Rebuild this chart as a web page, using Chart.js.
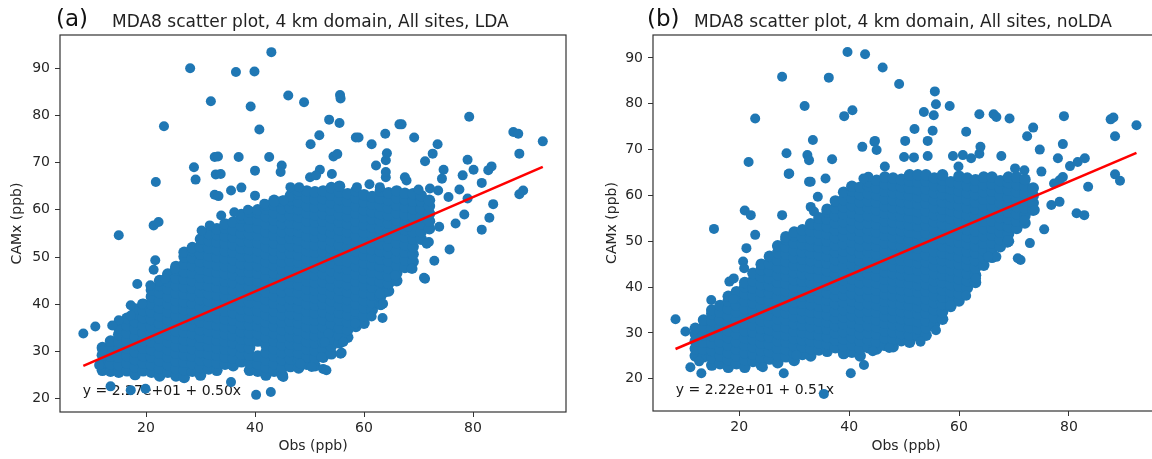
<!DOCTYPE html>
<html>
<head>
<meta charset="utf-8">
<script src="https://cdn.jsdelivr.net/npm/chart.js@4.4.0/dist/chart.umd.min.js"></script>
<style>
  html, body { margin: 0; padding: 0; background: #fff; }
  body { width: 1152px; height: 459px; overflow: hidden; position: relative; }
  .panel { position: absolute; top: 0; height: 459px; }
  .tag { position: absolute; font-family: 'DejaVu Sans'; font-size: 23px; line-height: 23px; color: #111; white-space: nowrap; }
  .ttl { position: absolute; font-family: 'DejaVu Sans'; font-size: 17px; line-height: 17px; color: #222; white-space: nowrap; }
</style>
</head>
<body>
<div class="panel" style="left:0;width:580px"><canvas id="chartA"></canvas></div>
<div class="panel" style="left:580px;width:600px"><canvas id="chartB"></canvas></div>
<div class="tag" style="left:56px;top:7px">(a)</div>
<div class="ttl" style="left:112px;top:13px">MDA8 scatter plot, 4 km domain, All sites, LDA</div>
<div class="tag" style="left:647px;top:7px">(b)</div>
<div class="ttl" style="left:694px;top:13px">MDA8 scatter plot, 4 km domain, All sites, noLDA</div>
<script>
// tick labels
const xTicks = [20, 40, 60, 80];
const yTicks = [20, 30, 40, 50, 60, 70, 80, 90];

// regression fits [intercept, slope]
const fitLda = [22.7, 0.50];
const fitNoLda = [22.2, 0.51];
const eqLda = 'y = 2.27e+01 + 0.50x';
const eqNoLda = 'y = 2.22e+01 + 0.51x';

// dense core of the LDA cloud, read column by column: [obs, camx, camx, ...]
const ldaCore = [
  [12, 26, 27.6, 29.2, 30.8],
  [13.5, 25.8, 27.4, 29, 30.6, 32.2],
  [15, 25.6, 27.2, 28.8, 30.4, 32, 33.6, 35],
  [16.5, 25.9, 27.5, 29.1, 30.7, 32.3, 33.9, 35.5, 37],
  [18, 25.1, 26.7, 28.3, 29.9, 31.5, 33.1, 34.7, 36.3, 37.9, 39],
  [19.5, 25.9, 27.5, 29.1, 30.7, 32.3, 33.9, 35.5, 37.1, 38.7, 40],
  [21, 25.6, 27.2, 28.8, 30.4, 32, 33.6, 35.2, 36.8, 38.4, 40, 41.6, 43],
  [22.5, 24.8, 26.4, 28, 29.6, 31.2, 32.8, 34.4, 36, 37.6, 39.2, 40.8, 42.4, 44, 45],
  [24, 25.6, 27.2, 28.8, 30.4, 32, 33.6, 35.2, 36.8, 38.4, 40, 41.6, 43.2, 44.8, 46.4],
  [25.5, 24.8, 26.4, 28, 29.6, 31.2, 32.8, 34.4, 36, 37.6, 39.2, 40.8, 42.4, 44, 45.6, 47.2, 48],
  [27, 24.5, 26.1, 27.7, 29.3, 30.9, 32.5, 34.1, 35.7, 37.3, 38.9, 40.5, 42.1, 43.7, 45.3, 46.9, 48.5, 50.1, 51],
  [28.5, 25.8, 27.4, 29, 30.6, 32.2, 33.8, 35.4, 37, 38.6, 40.2, 41.8, 43.4, 45, 46.6, 48.2, 49.8, 51.4, 52],
  [30, 25, 26.6, 28.2, 29.8, 31.4, 33, 34.6, 36.2, 37.8, 39.4, 41, 42.6, 44.2, 45.8, 47.4, 49, 50.6, 52.2, 53.8],
  [31.5, 26.3, 27.9, 29.5, 31.1, 32.7, 34.3, 35.9, 37.5, 39.1, 40.7, 42.3, 43.9, 45.5, 47.1, 48.7, 50.3, 51.9, 53.5, 55],
  [33, 26, 27.6, 29.2, 30.8, 32.4, 34, 35.6, 37.2, 38.8, 40.4, 42, 43.6, 45.2, 46.8, 48.4, 50, 51.6, 53.2, 54.8, 56],
  [34.5, 27.3, 28.9, 30.5, 32.1, 33.7, 35.3, 36.9, 38.5, 40.1, 41.7, 43.3, 44.9, 46.5, 48.1, 49.7, 51.3, 52.9, 54.5, 56.1, 57],
  [36, 27, 28.6, 30.2, 31.8, 33.4, 35, 36.6, 38.2, 39.8, 41.4, 43, 44.6, 46.2, 47.8, 49.4, 51, 52.6, 54.2, 55.8, 57.4],
  [37.5, 27.8, 29.4, 31, 32.6, 34.2, 35.8, 37.4, 39, 40.6, 42.2, 43.8, 45.4, 47, 48.6, 50.2, 51.8, 53.4, 55, 56.6, 58.2, 59],
  [39, 26, 27.6, 29.2, 30.8, 32.4, 34, 35.6, 37.2, 38.8, 40.4, 42, 43.6, 45.2, 46.8, 48.4, 50, 51.6, 53.2, 54.8, 56.4, 58, 59.6],
  [40.5, 25.8, 27.4, 29, 32.2, 33.8, 35.4, 37, 38.6, 40.2, 41.8, 43.4, 45, 46.6, 48.2, 49.8, 51.4, 53, 54.6, 56.2, 57.8, 59.4, 60],
  [42, 25, 26.6, 28.2, 29.8, 31.4, 33, 34.6, 36.2, 37.8, 39.4, 41, 42.6, 44.2, 45.8, 47.4, 49, 50.6, 52.2, 53.8, 55.4, 57, 58.6, 60.2, 61],
  [43.5, 25.8, 27.4, 29, 30.6, 32.2, 33.8, 35.4, 37, 38.6, 40.2, 41.8, 43.4, 45, 46.6, 48.2, 49.8, 51.4, 53, 54.6, 56.2, 57.8, 59.4, 61, 62],
  [45, 25, 26.6, 28.2, 29.8, 31.4, 33, 34.6, 36.2, 37.8, 39.4, 41, 42.6, 44.2, 45.8, 47.4, 49, 50.6, 52.2, 53.8, 55.4, 57, 58.6, 60.2, 61.8],
  [46.5, 26.8, 28.4, 30, 31.6, 33.2, 34.8, 36.4, 38, 39.6, 41.2, 42.8, 44.4, 46, 47.6, 49.2, 50.8, 52.4, 54, 55.6, 57.2, 58.8, 60.4, 62, 63],
  [48, 26.5, 28.1, 29.7, 31.3, 32.9, 34.5, 36.1, 37.7, 39.3, 40.9, 42.5, 44.1, 45.7, 47.3, 48.9, 50.5, 52.1, 53.7, 55.3, 56.9, 58.5, 60.1, 61.7, 63.3, 64],
  [49.5, 27.3, 28.9, 30.5, 32.1, 33.7, 35.3, 36.9, 38.5, 40.1, 41.7, 43.3, 44.9, 46.5, 48.1, 49.7, 51.3, 52.9, 54.5, 56.1, 57.7, 59.3, 60.9, 62.5, 64],
  [51, 27, 28.6, 30.2, 31.8, 33.4, 35, 36.6, 38.2, 39.8, 41.4, 43, 44.6, 46.2, 47.8, 49.4, 51, 52.6, 54.2, 55.8, 57.4, 59, 60.6, 62.2, 63.8],
  [52.5, 28.8, 30.4, 32, 33.6, 35.2, 36.8, 38.4, 40, 41.6, 43.2, 44.8, 46.4, 48, 49.6, 51.2, 52.8, 54.4, 56, 57.6, 59.2, 60.8, 62.4, 64],
  [54, 29.5, 31.1, 32.7, 34.3, 35.9, 37.5, 39.1, 40.7, 42.3, 43.9, 45.5, 47.1, 48.7, 50.3, 51.9, 53.5, 55.1, 56.7, 58.3, 59.9, 61.5, 63.1, 64.7],
  [55.5, 31.8, 33.4, 35, 36.6, 38.2, 39.8, 41.4, 43, 44.6, 46.2, 47.8, 49.4, 51, 52.6, 54.2, 55.8, 57.4, 59, 60.6, 62.2, 63.8, 65],
  [57, 33, 34.6, 36.2, 37.8, 39.4, 41, 42.6, 44.2, 45.8, 47.4, 49, 50.6, 52.2, 53.8, 55.4, 57, 58.6, 60.2, 61.8, 63.4],
  [58.5, 35.3, 36.9, 38.5, 40.1, 41.7, 43.3, 44.9, 46.5, 48.1, 49.7, 51.3, 52.9, 54.5, 56.1, 57.7, 59.3, 60.9, 62.5, 64],
  [60, 36, 37.6, 39.2, 40.8, 42.4, 44, 45.6, 47.2, 48.8, 50.4, 52, 53.6, 55.2, 56.8, 58.4, 60, 61.6, 63.2],
  [61.5, 38.8, 40.4, 42, 43.6, 45.2, 46.8, 48.4, 50, 51.6, 53.2, 54.8, 56.4, 58, 59.6, 61.2, 62.8],
  [63, 40, 41.6, 43.2, 44.8, 46.4, 48, 49.6, 51.2, 52.8, 54.4, 56, 57.6, 59.2, 60.8, 62.4, 64],
  [64.5, 42.8, 44.4, 46, 47.6, 49.2, 50.8, 52.4, 54, 55.6, 57.2, 58.8, 60.4, 62, 63.6],
  [66, 45, 46.6, 48.2, 49.8, 51.4, 53, 54.6, 56.2, 57.8, 59.4, 61, 62.6, 64],
  [67.5, 47.8, 49.4, 51, 52.6, 54.2, 55.8, 57.4, 59, 60.6, 62.2, 63.5],
  [69, 49, 50.6, 52.2, 53.8, 55.4, 57, 58.6, 60.2, 61.8, 63.4],
  [70.5, 53.8, 55.4, 57, 58.6, 60.2, 61.8, 63],
  [72, 56, 57.6, 59.2, 60.8, 62]
];

// scattered LDA points outside the core: [obs, camx]
const ldaOuter = [
  [8.5, 33.8], [10.7, 35.3], [11.4, 27.1], [13.5, 22.6], [15.0, 54.6], [15.0, 36.6], [17.2, 37.6], [17.2, 39.8],
  [19.3, 40.1], [18.4, 44.3], [20.8, 44.0], [21.4, 47.3], [21.7, 49.3], [21.8, 65.9], [21.4, 56.7], [22.3, 57.4],
  [23.3, 77.7], [28.1, 90.0], [28.8, 69.0], [29.1, 66.4], [31.9, 83.0], [32.6, 71.2], [33.2, 71.3], [32.8, 67.5],
  [33.7, 67.6], [32.6, 63.2], [33.3, 62.9], [36.5, 89.2], [37.0, 71.2], [37.5, 64.7], [35.6, 64.1], [39.9, 89.3],
  [39.2, 81.9], [40.8, 77.0], [40.0, 68.3], [40.0, 63.0], [42.6, 71.2], [43.0, 93.4], [44.9, 69.4], [44.7, 68.0],
  [46.1, 84.2], [17.2, 21.8], [19.9, 22.1], [35.6, 23.5], [40.2, 20.8], [42.9, 21.4], [30.2, 55.6], [31.7, 56.7],
  [33.8, 58.8], [36.2, 59.5], [38.7, 60.0], [41.7, 61.3], [43.5, 61.6], [45.3, 62.0], [46.5, 64.8], [48.1, 64.8],
  [49.0, 82.8], [55.6, 84.3], [55.7, 83.6], [53.6, 79.1], [55.5, 78.4], [51.8, 75.8], [50.2, 73.9], [58.5, 75.3],
  [59.0, 75.3], [61.4, 73.9], [63.9, 76.1], [66.5, 78.1], [66.9, 78.1], [69.2, 75.3], [79.3, 79.7], [87.4, 76.5],
  [88.3, 76.1], [92.8, 74.5], [88.5, 71.9], [73.5, 73.9], [72.6, 71.9], [71.2, 70.3], [79.0, 70.6], [78.1, 67.3],
  [80.1, 68.5], [82.8, 68.4], [83.4, 69.2], [81.6, 65.7], [89.2, 64.1], [88.5, 63.3], [83.7, 61.2], [83.0, 58.3],
  [81.6, 55.8], [78.4, 59.0], [76.8, 57.1], [79.0, 62.4], [77.5, 64.3], [74.6, 68.5], [74.3, 66.6], [73.6, 64.1],
  [75.5, 62.7], [73.8, 56.4], [71.9, 53.2], [75.7, 51.6], [72.9, 49.2], [71.2, 45.4], [68.9, 47.5], [65.7, 46.1],
  [63.7, 42.4], [63.1, 39.8], [61.4, 37.4], [63.4, 37.1], [58.4, 35.9], [56.2, 32.0], [55.9, 29.7], [53.5, 33.8],
  [52.8, 32.0], [52.5, 26.3], [50.4, 26.7], [48.3, 27.4], [45.2, 24.6], [54.1, 67.6], [54.4, 71.3], [55.1, 71.8],
  [51.9, 68.5], [50.1, 66.9], [51.2, 67.3], [58.7, 64.8], [61.0, 65.4], [62.2, 69.4], [64.0, 70.5], [64.2, 72.0],
  [64.0, 66.9], [64.0, 68.0], [67.5, 66.9], [67.8, 66.2], [70.0, 64.3], [72.1, 64.5], [53.1, 26.0], [55.7, 29.5],
  [52.2, 28.8], [62.9, 42.2], [63.5, 40.1], [68.7, 47.5], [71.0, 45.6], [71.5, 52.8], [68.1, 56.4], [13.8, 35.5],
  [12.0, 30.2], [62.9, 64.8], [23.5, 45.4], [25.3, 47.5]
];

// dense core of the noLDA cloud: [obs, camx, camx, ...]
const noLdaCore = [
  [12, 25, 26.6, 28.2, 29.8, 31],
  [13.5, 24.8, 26.4, 28, 29.6, 31.2, 32.8],
  [15, 23, 24.6, 26.2, 27.8, 29.4, 31, 32.6, 34.2, 35],
  [16.5, 23.3, 24.9, 26.5, 28.1, 29.7, 31.3, 32.9, 34.5, 36],
  [18, 22.5, 24.1, 25.7, 27.3, 28.9, 30.5, 32.1, 33.7, 35.3, 36.9, 38],
  [19.5, 23.3, 24.9, 26.5, 28.1, 29.7, 31.3, 32.9, 34.5, 36.1, 37.7, 39],
  [21, 22.5, 24.1, 25.7, 27.3, 28.9, 30.5, 32.1, 33.7, 35.3, 36.9, 38.5, 40.1, 41],
  [22.5, 23.8, 25.4, 27, 28.6, 30.2, 31.8, 33.4, 35, 36.6, 38.2, 39.8, 41.4, 43],
  [24, 23, 24.6, 26.2, 27.8, 29.4, 31, 32.6, 34.2, 35.8, 37.4, 39, 40.6, 42.2, 43.8, 45],
  [25.5, 24.3, 25.9, 27.5, 29.1, 30.7, 32.3, 33.9, 35.5, 37.1, 38.7, 40.3, 41.9, 43.5, 45.1, 46.7],
  [27, 23.5, 25.1, 26.7, 28.3, 29.9, 31.5, 33.1, 34.7, 36.3, 37.9, 39.5, 41.1, 42.7, 44.3, 45.9, 47.5, 49],
  [28.5, 24.8, 26.4, 28, 29.6, 31.2, 32.8, 34.4, 36, 37.6, 39.2, 40.8, 42.4, 44, 45.6, 47.2, 48.8, 50.4, 51],
  [30, 24, 25.6, 27.2, 28.8, 30.4, 32, 33.6, 35.2, 36.8, 38.4, 40, 41.6, 43.2, 44.8, 46.4, 48, 49.6, 51.2, 52],
  [31.5, 25.3, 26.9, 28.5, 30.1, 31.7, 33.3, 34.9, 36.5, 38.1, 39.7, 41.3, 42.9, 44.5, 46.1, 47.7, 49.3, 50.9, 52.5],
  [33, 25, 26.6, 28.2, 29.8, 31.4, 33, 34.6, 36.2, 37.8, 39.4, 41, 42.6, 44.2, 45.8, 47.4, 49, 50.6, 52.2, 53.8],
  [34.5, 26.3, 27.9, 29.5, 31.1, 32.7, 34.3, 35.9, 37.5, 39.1, 40.7, 42.3, 43.9, 45.5, 47.1, 48.7, 50.3, 51.9, 53.5, 55.1],
  [36, 26, 27.6, 29.2, 30.8, 32.4, 34, 35.6, 37.2, 38.8, 40.4, 42, 43.6, 45.2, 46.8, 48.4, 50, 51.6, 53.2, 54.8, 56.4, 57],
  [37.5, 26.8, 28.4, 30, 31.6, 33.2, 34.8, 36.4, 38, 39.6, 41.2, 42.8, 44.4, 46, 47.6, 49.2, 50.8, 52.4, 54, 55.6, 57.2, 58.8],
  [39, 25.5, 27.1, 28.7, 30.3, 31.9, 33.5, 35.1, 36.7, 38.3, 39.9, 41.5, 43.1, 44.7, 46.3, 47.9, 49.5, 51.1, 52.7, 54.3, 55.9, 57.5, 59.1, 60.7],
  [40.5, 25.8, 27.4, 29, 30.6, 32.2, 33.8, 35.4, 37, 38.6, 40.2, 41.8, 43.4, 45, 46.6, 48.2, 49.8, 51.4, 53, 54.6, 56.2, 57.8, 59.4, 61, 62],
  [42, 25, 26.6, 28.2, 29.8, 31.4, 33, 34.6, 36.2, 37.8, 39.4, 41, 42.6, 44.2, 45.8, 47.4, 49, 50.6, 52.2, 53.8, 55.4, 57, 58.6, 60.2, 61.8],
  [43.5, 26.8, 28.4, 30, 31.6, 33.2, 34.8, 36.4, 38, 39.6, 41.2, 42.8, 44.4, 46, 47.6, 49.2, 50.8, 52.4, 54, 55.6, 57.2, 58.8, 60.4, 62, 63],
  [45, 26.5, 28.1, 29.7, 31.3, 32.9, 34.5, 36.1, 37.7, 39.3, 40.9, 42.5, 44.1, 45.7, 47.3, 48.9, 50.5, 52.1, 53.7, 55.3, 56.9, 58.5, 60.1, 61.7, 63.3],
  [46.5, 27.3, 28.9, 30.5, 32.1, 33.7, 35.3, 36.9, 38.5, 40.1, 41.7, 43.3, 44.9, 46.5, 48.1, 49.7, 51.3, 52.9, 54.5, 56.1, 57.7, 59.3, 60.9, 62.5, 64],
  [48, 27, 28.6, 30.2, 31.8, 33.4, 35, 36.6, 38.2, 39.8, 41.4, 43, 44.6, 46.2, 47.8, 49.4, 51, 52.6, 54.2, 55.8, 57.4, 59, 60.6, 62.2, 63.8],
  [49.5, 28.3, 29.9, 31.5, 33.1, 34.7, 36.3, 37.9, 39.5, 41.1, 42.7, 44.3, 45.9, 47.5, 49.1, 50.7, 52.3, 53.9, 55.5, 57.1, 58.7, 60.3, 61.9, 63.5],
  [51, 28, 29.6, 31.2, 32.8, 34.4, 36, 37.6, 39.2, 40.8, 42.4, 44, 45.6, 47.2, 48.8, 50.4, 52, 53.6, 55.2, 56.8, 58.4, 60, 61.6, 63.2, 64.5],
  [52.5, 29.3, 30.9, 32.5, 34.1, 35.7, 37.3, 38.9, 40.5, 42.1, 43.7, 45.3, 46.9, 48.5, 50.1, 51.7, 53.3, 54.9, 56.5, 58.1, 59.7, 61.3, 62.9, 64.5],
  [54, 29.5, 31.1, 32.7, 34.3, 35.9, 37.5, 39.1, 40.7, 42.3, 43.9, 45.5, 47.1, 48.7, 50.3, 51.9, 53.5, 55.1, 56.7, 58.3, 59.9, 61.5, 63.1, 64.5],
  [55.5, 31.8, 33.4, 35, 36.6, 38.2, 39.8, 41.4, 43, 44.6, 46.2, 47.8, 49.4, 51, 52.6, 54.2, 55.8, 57.4, 59, 60.6, 62.2, 63.8],
  [57, 33, 34.6, 36.2, 37.8, 39.4, 41, 42.6, 44.2, 45.8, 47.4, 49, 50.6, 52.2, 53.8, 55.4, 57, 58.6, 60.2, 61.8, 63.4, 64.5],
  [58.5, 35.8, 37.4, 39, 40.6, 42.2, 43.8, 45.4, 47, 48.6, 50.2, 51.8, 53.4, 55, 56.6, 58.2, 59.8, 61.4, 63],
  [60, 37, 38.6, 40.2, 41.8, 43.4, 45, 46.6, 48.2, 49.8, 51.4, 53, 54.6, 56.2, 57.8, 59.4, 61, 62.6, 64.2],
  [61.5, 39.8, 41.4, 43, 44.6, 46.2, 47.8, 49.4, 51, 52.6, 54.2, 55.8, 57.4, 59, 60.6, 62.2, 63.8],
  [63, 41, 42.6, 44.2, 45.8, 47.4, 49, 50.6, 52.2, 53.8, 55.4, 57, 58.6, 60.2, 61.8, 63.4],
  [64.5, 44.8, 46.4, 48, 49.6, 51.2, 52.8, 54.4, 56, 57.6, 59.2, 60.8, 62.4, 64],
  [66, 46.5, 48.1, 49.7, 51.3, 52.9, 54.5, 56.1, 57.7, 59.3, 60.9, 62.5, 64],
  [67.5, 48.8, 50.4, 52, 53.6, 55.2, 56.8, 58.4, 60, 61.6, 63.2],
  [69, 50, 51.6, 53.2, 54.8, 56.4, 58, 59.6, 61.2, 62.8, 64],
  [70.5, 52.8, 54.4, 56, 57.6, 59.2, 60.8, 62.4, 64],
  [72, 54, 55.6, 57.2, 58.8, 60.4, 62, 63.5],
  [73.5, 56.8, 58.4, 60, 61.6]
];

// scattered noLDA points outside the core: [obs, camx]
const noLdaOuter = [
  [8.4, 33.0], [10.2, 30.3], [11.1, 22.5], [12.7, 23.8], [13.1, 21.2], [15.4, 52.7], [14.9, 37.2], [18.9, 37.4],
  [18.2, 41.2], [19.0, 41.9], [20.7, 45.6], [20.9, 44.1], [21.0, 56.7], [22.1, 55.7], [21.7, 67.3], [21.3, 48.5],
  [22.9, 51.4], [22.9, 76.8], [27.8, 85.9], [27.8, 55.7], [28.6, 69.2], [29.0, 64.7], [31.9, 79.5], [32.4, 68.8],
  [32.7, 67.7], [33.4, 72.1], [32.7, 63.0], [34.3, 59.7], [33.0, 57.5], [33.6, 56.5], [36.3, 85.7], [36.9, 67.9],
  [35.7, 63.7], [39.7, 91.3], [39.1, 77.3], [40.6, 78.6], [42.9, 90.8], [42.4, 70.6], [44.6, 71.7], [45.0, 69.9],
  [43.5, 64.1], [24.3, 22.5], [28.1, 21.2], [35.4, 16.7], [40.3, 21.2], [42.7, 23.0], [30.4, 25.2],
  [46.1, 87.9], [49.1, 84.3], [55.6, 82.7], [55.8, 79.9], [53.6, 78.2], [55.4, 77.5], [58.3, 79.5], [63.7, 77.7],
  [66.3, 77.7], [66.8, 77.1], [69.2, 76.8], [51.9, 74.5], [55.2, 74.1], [54.3, 71.9], [61.3, 73.9], [50.2, 71.9],
  [44.7, 71.9], [50.0, 68.4], [51.8, 68.3], [54.3, 68.6], [58.9, 68.6], [60.7, 68.8], [62.2, 68.1], [63.7, 69.1],
  [63.9, 70.6], [67.7, 68.6], [46.5, 66.3], [59.9, 66.3], [72.4, 72.9], [73.5, 74.8], [74.7, 70.0], [79.1, 77.3],
  [78.9, 71.2], [78.0, 68.1], [80.2, 66.4], [81.6, 67.3], [82.9, 68.1], [87.6, 76.6], [88.1, 77.0], [88.4, 72.9],
  [92.3, 75.3], [88.4, 64.6], [89.3, 63.2], [83.5, 61.9], [81.4, 56.1], [82.8, 55.7], [78.3, 58.6], [76.8, 57.9],
  [75.5, 52.6], [72.9, 49.6], [71.2, 45.9], [68.8, 49.7], [66.8, 46.6], [63.1, 41.9], [61.3, 38.1], [58.4, 36.1],
  [55.8, 30.6], [53.0, 28.1], [47.3, 26.7], [44.3, 26.0], [73.8, 56.8], [71.9, 54.6], [78.3, 63.3], [78.9, 64.0],
  [77.3, 62.6], [75.0, 65.2], [70.2, 65.9], [71.9, 65.5], [42.6, 63.7], [33.0, 63.0], [29.1, 64.8], [70.7, 46.3],
  [68.9, 50.3], [65.3, 46.6]
];

const FONT = 'DejaVu Sans';
const TEXT = '#262626';
const BLUE = '#1f77b4';

function coreToPoints(core) {
  const pts = [];
  core.forEach(col => col.slice(1).forEach(y => pts.push({ x: col[0], y: y })));
  return pts;
}

function outerToPoints(outer) {
  return outer.map(p => ({ x: p[0], y: p[1] }));
}

function fitLine(points, fit) {
  const xs = points.map(p => p.x);
  const lo = Math.min(...xs), hi = Math.max(...xs);
  return [{ x: lo, y: fit[0] + fit[1] * lo }, { x: hi, y: fit[0] + fit[1] * hi }];
}

const framePlugin = {
  id: 'frame',
  beforeDatasetsDraw(chart) {
    const { ctx, chartArea: a } = chart;
    const eq = chart.options.plugins.frame.eq;
    ctx.save();
    ctx.font = '14px "' + FONT + '"';
    ctx.fillStyle = '#1a1a1a';
    ctx.textBaseline = 'alphabetic';
    ctx.fillText(eq, a.left + 0.045 * (a.right - a.left), a.bottom - 0.045 * (a.bottom - a.top));
    ctx.restore();
  },
  afterDraw(chart) {
    const { ctx, chartArea: a } = chart;
    ctx.save();
    ctx.strokeStyle = '#333';
    ctx.lineWidth = 1.2;
    ctx.strokeRect(a.left, a.top, a.right - a.left, a.bottom - a.top);
    ctx.restore();
  }
};

function makePanel(id, core, outer, fit, eq, xLim, yLim, pad, yW, xH) {
  const corePts = coreToPoints(core);
  const outerPts = outerToPoints(outer);
  return new Chart(document.getElementById(id), {
    type: 'scatter',
    data: {
      datasets: [{
        type: 'line',
        data: fitLine(corePts.concat(outerPts), fit),
        borderColor: '#ff0000',
        borderWidth: 2.6,
        pointRadius: 0,
        showLine: true,
        fill: false,
        order: 0
      }, {
        data: outerPts,
        backgroundColor: BLUE,
        borderWidth: 0,
        pointRadius: 5.0,
        pointHoverRadius: 5.0,
        order: 1
      }, {
        data: corePts,
        backgroundColor: BLUE,
        borderWidth: 0,
        pointRadius: 5.8,
        pointHoverRadius: 5.8,
        order: 2
      }]
    },
    options: {
      responsive: true,
      maintainAspectRatio: false,
      animation: false,
      devicePixelRatio: 1,
      layout: { padding: pad },
      plugins: { legend: { display: false }, tooltip: { enabled: false }, frame: { eq: eq } },
      scales: {
        x: {
          type: 'linear', min: xLim[0], max: xLim[1],
          afterBuildTicks: ax => { ax.ticks = xTicks.map(v => ({ value: v })); },
          afterFit: s => { s.height = xH; },
          ticks: { font: { family: FONT, size: 14 }, color: TEXT, padding: 3, maxRotation: 0, autoSkip: false },
          grid: { drawOnChartArea: false, drawTicks: true, tickLength: 5, color: '#333', tickWidth: 1 },
          border: { display: false },
          title: { display: true, text: 'Obs (ppb)', color: TEXT, font: { family: FONT, size: 14 }, padding: { top: 0, bottom: 4 } }
        },
        y: {
          type: 'linear', min: yLim[0], max: yLim[1],
          afterBuildTicks: ax => { ax.ticks = yTicks.map(v => ({ value: v })); },
          afterFit: s => { s.width = yW; },
          ticks: { font: { family: FONT, size: 14 }, color: TEXT, padding: 5, autoSkip: false },
          grid: { drawOnChartArea: false, drawTicks: true, tickLength: 5, color: '#333', tickWidth: 1 },
          border: { display: false },
          title: { display: true, text: 'CAMx (ppb)', color: TEXT, font: { family: FONT, size: 14 }, padding: { top: 9, bottom: 0 } }
        }
      }
    },
    plugins: [framePlugin]
  });
}

makePanel('chartA', ldaCore, ldaOuter, fitLda, eqLda, [4.22, 97.06], [17.17, 97.03],
  { top: 35, right: 14, left: 0, bottom: 0 }, 60, 47);
makePanel('chartB', noLdaCore, noLdaOuter, fitNoLda, eqNoLda, [4.3, 96.4], [12.97, 95.0],
  { top: 35, right: 21, left: 15, bottom: 0 }, 58, 48);
</script>
</body>
</html>
